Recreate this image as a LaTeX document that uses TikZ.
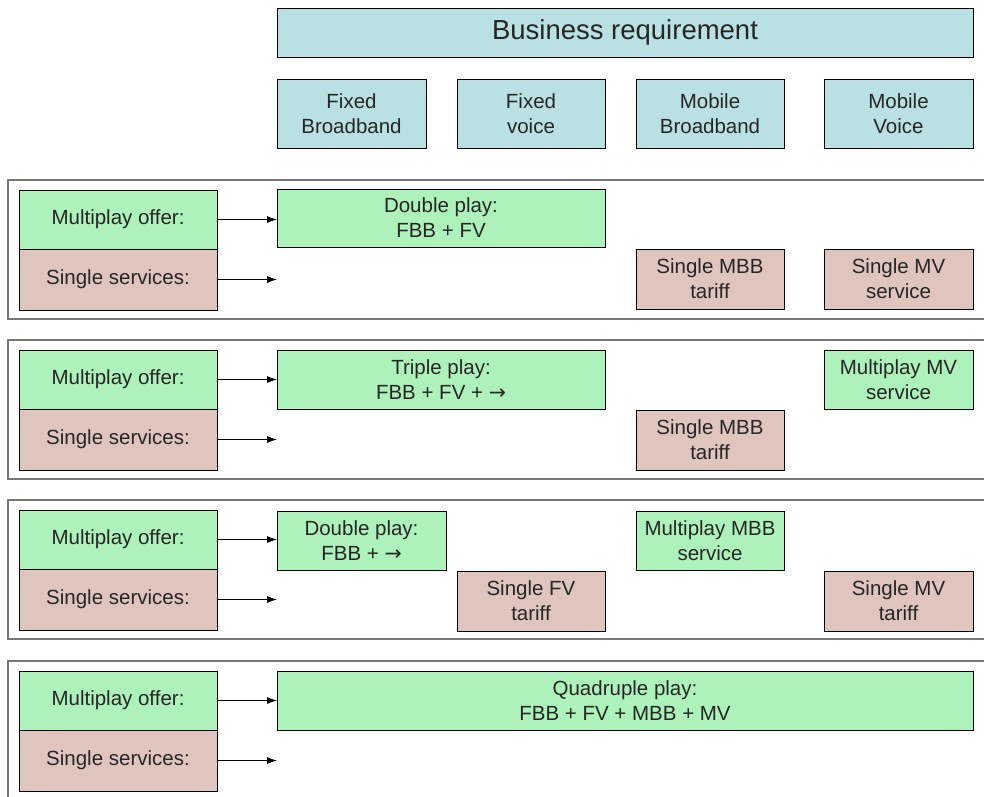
\documentclass[tikz,border=0pt]{standalone}
\usepackage{fontspec}
\setmainfont{Liberation Sans}
\newfontfamily\arrowfont{DejaVu Sans}
\usetikzlibrary{arrows.meta,positioning}

\definecolor{reqblue}{HTML}{B9E0E3}
\definecolor{offergreen}{HTML}{ADF2BA}
\definecolor{singlepink}{HTML}{DFC5BD}
\definecolor{framegray}{HTML}{777777}

\newcommand{\more}{{\arrowfont →}}

\begin{document}
\begin{tikzpicture}[
  x=1pt, y=-1pt,
  box/.style={rectangle, draw, line width=0.9pt, align=center, text=black!85,
    font=\fontsize{20.5}{25}\selectfont, inner sep=0pt},
  req/.style={box, fill=reqblue},
  offer/.style={box, fill=offergreen},
  single/.style={box, fill=singlepink},
  rowframe/.style={draw=framegray, line width=1.3pt},
  arrow/.style={-{Latex[length=10pt,width=7pt]}, line width=0.9pt}
]
\useasboundingbox (0,0) rectangle (984,796);

% requirement header
\node[req, minimum width=696, minimum height=49, font=\fontsize{27.5}{30}\selectfont] (business) at (625,32.5) {Business requirement};
\node[req, minimum width=149, minimum height=69] (fbb) at (351.5,113.5) {Fixed\\Broadband};
\node[req, minimum width=148, minimum height=69] (fv) at (531,113.5) {Fixed\\voice};
\node[req, minimum width=148, minimum height=69] (mbb) at (710,113.5) {Mobile\\Broadband};
\node[req, minimum width=149, minimum height=69] (mv) at (898.5,113.5) {Mobile\\Voice};

% one frame per scenario, with the two labels on the left
\foreach \r/\t in {1/180, 2/340, 3/500, 4/661} {
  \draw[rowframe] (8,\t) rectangle (1000,\t+139);
  \node[offer, minimum width=198, minimum height=59] (multi\r) at (118,\t+39.5) {Multiplay offer:};
  \node[single, minimum width=198, minimum height=61] (singles\r) at (118,\t+99.5) {Single services:};
  \coordinate (multiend\r) at (277,\t+39.5);
  \coordinate (singleend\r) at (277,\t+99.5);
  \draw[arrow] (multi\r) -- (multiend\r);
  \draw[arrow] (singles\r) -- (singleend\r);
}

% scenario 1
\node[offer, minimum width=328, minimum height=58] (double1) at (441,218) {Double play:\\FBB + FV};
\node[single, minimum width=148, minimum height=60] (smbb1) at (710,279) {Single MBB\\tariff};
\node[single, minimum width=149, minimum height=60] (smv1) at (898.5,279) {Single MV\\service};

% scenario 2
\node[offer, minimum width=328, minimum height=59] (triple2) at (441,379.5) {Triple play:\\FBB + FV + \more};
\node[offer, minimum width=149, minimum height=59] (mmv2) at (898.5,379.5) {Multiplay MV\\service};
\node[single, minimum width=148, minimum height=60] (smbb2) at (710,440) {Single MBB\\tariff};

% scenario 3
\node[offer, minimum width=169, minimum height=59] (double3) at (361.5,540.5) {Double play:\\FBB + \more};
\node[offer, minimum width=148, minimum height=59] (mmbb3) at (710,540.5) {Multiplay MBB\\service};
\node[single, minimum width=148, minimum height=60] (sfv3) at (531,601) {Single FV\\tariff};
\node[single, minimum width=149, minimum height=60] (smv3) at (898.5,601) {Single MV\\tariff};

% scenario 4
\node[offer, minimum width=696, minimum height=59] (quad4) at (625,701) {Quadruple play:\\FBB + FV + MBB + MV};

\end{tikzpicture}
\end{document}
